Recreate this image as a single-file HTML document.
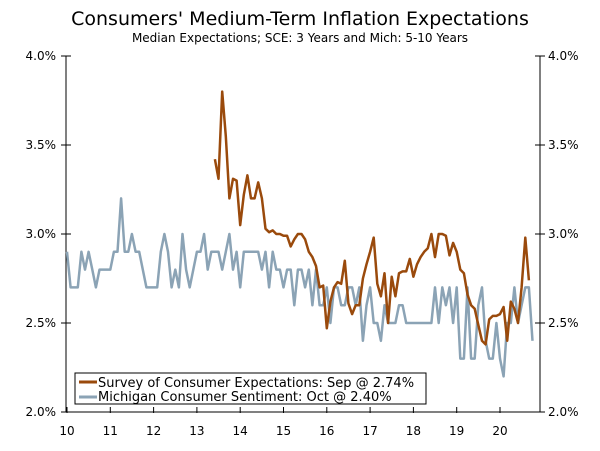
<!DOCTYPE html>
<html><head><meta charset="utf-8"><style>
body{margin:0;background:#fff;}
svg text{font-family:"DejaVu Sans","Liberation Sans",sans-serif;fill:#000;}
</style></head><body>
<svg width="600" height="446">
<text x="300" y="25" font-size="19" text-anchor="middle">Consumers' Medium-Term Inflation Expectations</text>
<text x="300" y="42" font-size="12" text-anchor="middle">Median Expectations; SCE: 3 Years and Mich: 5-10 Years</text>
<g id="axes"></g>
<g id="series"></g>
<g>
<rect x="75" y="373" width="351" height="31" fill="#fff" stroke="#000" stroke-width="1"/>
<line x1="79" y1="382" x2="97" y2="382" stroke="#9a4a0c" stroke-width="3"/>
<text x="98" y="387" font-size="13">Survey of Consumer Expectations: Sep @ 2.74%</text>
<line x1="79" y1="397" x2="97" y2="397" stroke="#8ba3b5" stroke-width="3"/>
<text x="98" y="401" font-size="13">Michigan Consumer Sentiment: Oct @ 2.40%</text>
</g>
</svg>
<script>
const yTicks=[2.0,2.5,3.0,3.5,4.0];
const yTickLabels=["2.0%","2.5%","3.0%","3.5%","4.0%"];
const xTicks=[10,11,12,13,14,15,16,17,18,19,20];
const michigan=[2.9,2.7,2.7,2.7,2.9,2.8,2.9,2.8,2.7,2.8,2.8,2.8,
2.8,2.9,2.9,3.2,2.9,2.9,3.0,2.9,2.9,2.8,2.7,2.7,
2.7,2.7,2.9,3.0,2.9,2.7,2.8,2.7,3.0,2.8,2.7,2.8,
2.9,2.9,3.0,2.8,2.9,2.9,2.9,2.8,2.9,3.0,2.8,2.9,
2.7,2.9,2.9,2.9,2.9,2.9,2.8,2.9,2.7,2.9,2.8,2.8,
2.7,2.8,2.8,2.6,2.8,2.8,2.7,2.8,2.6,2.8,2.6,2.6,
2.7,2.5,2.7,2.7,2.6,2.6,2.7,2.7,2.6,2.7,2.4,2.6,
2.7,2.5,2.5,2.4,2.6,2.5,2.5,2.5,2.6,2.6,2.5,2.5,
2.5,2.5,2.5,2.5,2.5,2.5,2.7,2.5,2.7,2.6,2.7,2.5,
2.7,2.3,2.3,2.7,2.3,2.3,2.6,2.7,2.4,2.3,2.3,2.5,
2.3,2.2,2.5,2.5,2.7,2.5,2.6,2.7,2.7,2.4];
const sceStart=41; // months since Jan 2010 (Jun 2013)
const sce=[3.42,3.31,3.80,3.55,3.20,3.31,3.30,
3.05,3.22,3.33,3.20,3.20,3.29,3.20,3.03,3.01,3.02,3.00,3.00,
2.99,2.99,2.93,2.97,3.00,3.00,2.97,2.90,2.87,2.82,2.70,2.71,
2.47,2.62,2.70,2.73,2.72,2.85,2.61,2.55,2.60,2.60,2.75,2.83,
2.90,2.98,2.72,2.65,2.78,2.50,2.76,2.65,2.78,2.79,2.79,2.86,
2.76,2.83,2.87,2.90,2.92,3.00,2.87,3.00,3.00,2.99,2.88,2.95,
2.90,2.80,2.78,2.66,2.60,2.58,2.49,2.40,2.38,2.52,2.54,2.54,
2.55,2.59,2.40,2.62,2.58,2.50,2.70,2.98,2.74];
const L=66,R=540,T=56,B=412;
const xs=m=>67+m*43.3/12;
const ys=v=>B-(v-2)/2*(B-T);
const ns="http://www.w3.org/2000/svg";
function mk(tag,attrs,parent){const e=document.createElementNS(ns,tag);for(const k in attrs)e.setAttribute(k,attrs[k]);parent.appendChild(e);return e;}
const ax=document.getElementById('axes');
let e;
e=mk('line',{x1:L,y1:T,x2:L,y2:B,stroke:'#000'},ax);


e=mk('line',{x1:R,y1:T,x2:R,y2:B,stroke:'#000'},ax);


e=mk('line',{x1:L-5,y1:B,x2:R+5,y2:B,stroke:'#000'},ax);


yTicks.forEach((v,i)=>{const y=ys(v);
mk('line',{x1:L-5,y1:y,x2:L+5,y2:y,stroke:'#000'},ax);
mk('line',{x1:R-5,y1:y,x2:R+5,y2:y,stroke:'#000'},ax);
const t=mk('text',{x:L-10,y:y+4,'font-size':12,'text-anchor':'end'},ax);t.textContent=yTickLabels[i];


const t2=mk('text',{x:R+8,y:y+4,'font-size':12},ax);t2.textContent=yTickLabels[i];

});
xTicks.forEach(yr=>{const x=xs((yr-10)*12);
mk('line',{x1:x,y1:B-5,x2:x,y2:B+1,stroke:'#000'},ax);
const t=mk('text',{x:x,y:435,'font-size':12,'text-anchor':'middle'},ax);t.textContent=yr;

});
const sg=document.getElementById('series');
function line(vals,start,color,name){const p=mk('polyline',{points:vals.map((v,i)=>xs(start+i).toFixed(1)+','+ys(v).toFixed(1)).join(' '),fill:'none',stroke:color,'stroke-width':2.5,'stroke-linejoin':'round'},sg);

}
line(michigan,0,'#8ba3b5','michigan-line');
line(sce,sceStart,'#9a4a0c','sce-line');
</script>
</body></html>
